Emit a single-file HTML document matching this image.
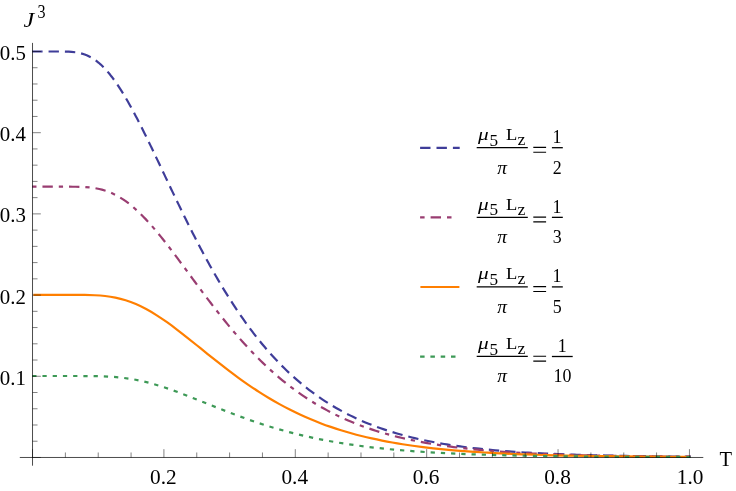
<!DOCTYPE html>
<html><head><meta charset="utf-8"><title>Plot</title>
<style>html,body{margin:0;padding:0;background:#fff}body{width:736px;height:491px;overflow:hidden;font-family:"Liberation Serif",serif}svg{display:block;will-change:transform}.ls{font-family:"Liberation Serif",serif}</style>
</head><body>
<svg width="736" height="491" viewBox="0 0 736 491">
<rect width="736" height="491" fill="#fff"/>
<path d="M32.22,51.49L36.04,51.49L38.76,51.49L42.59,51.49M48.56,51.49L52.38,51.49L55.10,51.49L58.93,51.50M64.90,51.55L68.72,51.68L71.44,51.84L75.24,52.22M81.10,53.35L84.75,54.49L87.28,55.50L90.71,57.19M95.73,60.41L98.73,62.78L100.78,64.57L103.54,67.22M107.58,71.62L110.02,74.56L111.70,76.70L113.99,79.76M117.42,84.65L119.53,87.84L121.00,90.13L123.02,93.38M126.08,98.50L127.99,101.81L129.33,104.18L131.19,107.53M134.03,112.78L135.82,116.16L137.08,118.57L138.83,121.97M141.54,127.29L143.25,130.71L144.46,133.15L146.15,136.58M148.77,141.94L150.43,145.38L151.62,147.84L153.27,151.28M155.84,156.67L157.49,160.12L158.65,162.58L160.29,166.04M162.85,171.43L164.48,174.89L165.64,177.35L167.28,180.81M169.84,186.20L171.48,189.66L172.65,192.11L174.30,195.56M176.88,200.95L178.54,204.39L179.73,206.84L181.39,210.28M184.02,215.65L185.70,219.08L186.91,221.52L188.62,224.94M191.29,230.28L193.02,233.69L194.26,236.11L196.00,239.52M198.75,244.81L200.53,248.20L201.80,250.61L203.60,253.98M206.44,259.23L208.28,262.59L209.59,264.97L211.46,268.31M214.40,273.50L216.30,276.82L217.67,279.17L219.61,282.47M222.67,287.59L224.66,290.86L226.09,293.18L228.11,296.43M231.31,301.46L233.39,304.67L234.88,306.95L237.00,310.13M240.36,315.07L242.54,318.21L244.11,320.43L246.34,323.54M249.87,328.35L252.17,331.41L253.82,333.57L256.17,336.59M259.89,341.26L262.32,344.21L264.07,346.30L266.55,349.21M270.48,353.70L273.05,356.53L274.90,358.54L277.52,361.32M281.68,365.60L284.39,368.29L286.34,370.19L289.11,372.83M293.51,376.87L296.37,379.40L298.43,381.18L301.35,383.65M305.99,387.41L309.00,389.76L311.17,391.41L314.24,393.69M319.11,397.14L322.27,399.29L324.54,400.80L327.76,402.86M332.84,405.99L336.14,407.93L338.51,409.28L341.85,411.13M347.13,413.91L350.55,415.63L353.00,416.82L356.46,418.45M361.90,420.89L365.42,422.39L367.94,423.43L371.49,424.84M377.08,426.95L380.67,428.24L383.25,429.13L386.87,430.35M392.57,432.15L396.23,433.24L398.84,434.00L402.53,435.03M408.30,436.55L412.01,437.47L414.66,438.11L418.38,438.97M424.22,440.24L427.96,441.01L430.63,441.54L434.39,442.26M440.26,443.32L444.03,443.96L446.72,444.40L450.50,444.99M456.40,445.87L460.19,446.40L462.89,446.76L466.68,447.25M472.61,447.97L476.40,448.40L479.11,448.70L482.91,449.10M488.85,449.69L492.66,450.05L495.37,450.29L499.18,450.62M505.13,451.10L508.95,451.39L511.66,451.59L515.48,451.86M521.43,452.25L525.25,452.49L527.97,452.65L531.78,452.87M537.75,453.19L541.56,453.38L544.28,453.51L548.10,453.69M554.07,453.95L557.89,454.11L560.61,454.21L564.43,454.36M570.40,454.57L574.22,454.69L576.94,454.78L580.76,454.90M586.73,455.07L590.55,455.17L593.27,455.24L597.10,455.34M603.06,455.47L606.89,455.56L609.61,455.61L613.43,455.69M619.40,455.80L623.22,455.87L625.95,455.91L629.77,455.98M635.74,456.07L639.56,456.12L642.28,456.16L646.11,456.21M652.08,456.28L655.90,456.32L658.62,456.35L662.45,456.39M668.42,456.45L672.24,456.49L674.96,456.51L678.79,456.54M684.76,456.59L687.78,456.61L690.80,456.63" fill="none" stroke="#3f3d99" stroke-width="2.2" stroke-linejoin="round"/>
<path d="M32.22,186.71L36.48,186.71M42.45,186.71L46.27,186.71L48.99,186.71L52.82,186.71M58.79,186.71L63.05,186.71M69.02,186.72L72.84,186.74L75.56,186.77L79.39,186.85M85.35,187.11L89.60,187.46M95.51,188.25L99.26,189.00L101.91,189.64L105.58,190.72M111.16,192.84L115.01,194.65M120.23,197.55L123.44,199.62L125.68,201.18L128.74,203.46M133.36,207.24L136.54,210.08M140.86,214.20L143.55,216.92L145.43,218.88L148.04,221.68M152.01,226.14L154.79,229.37M158.61,233.95L161.02,236.92L162.73,239.05L165.10,242.05M168.76,246.76L171.35,250.14M174.95,254.90L177.24,257.96L178.87,260.15L181.15,263.22M184.70,268.02L187.23,271.45M190.77,276.25L193.04,279.33L194.65,281.52L196.93,284.60M200.48,289.39L203.03,292.80M206.62,297.58L208.93,300.62L210.58,302.79L212.91,305.82M216.57,310.54L219.20,313.89M222.93,318.55L225.33,321.53L227.05,323.64L229.49,326.59M233.32,331.16L236.09,334.39M240.02,338.89L242.56,341.75L244.39,343.77L246.97,346.59M251.05,350.95L254.00,354.02M258.19,358.27L260.91,360.96L262.86,362.86L265.63,365.50M270.00,369.56L273.17,372.41M277.67,376.33L280.59,378.79L282.69,380.53L285.67,382.93M290.37,386.61L293.77,389.17M298.61,392.68L301.74,394.86L303.99,396.40L307.18,398.51M312.21,401.72L315.84,403.95M321.00,406.96L324.33,408.83L326.72,410.13L330.10,411.92M335.43,414.62L339.27,416.47M344.69,418.96L348.19,420.49L350.70,421.55L354.24,423.01M359.80,425.18L363.79,426.66M369.42,428.64L373.05,429.85L375.64,430.69L379.29,431.83M385.02,433.52L389.12,434.67M394.89,436.20L398.60,437.12L401.25,437.76L404.97,438.63M410.80,439.91L414.97,440.78M420.83,441.92L424.59,442.62L427.27,443.09L431.04,443.74M436.94,444.69L441.15,445.33M447.06,446.18L450.85,446.69L453.55,447.04L457.34,447.51M463.27,448.21L467.50,448.68M473.44,449.29L477.25,449.66L479.96,449.92L483.77,450.26M489.71,450.77L493.96,451.11M499.91,451.55L503.73,451.82L506.45,452.00L510.26,452.25M516.22,452.61L520.47,452.86M526.43,453.18L530.25,453.37L532.97,453.50L536.79,453.68M542.76,453.94L547.01,454.11M552.98,454.34L556.80,454.48L559.52,454.57L563.34,454.70M569.31,454.88L573.57,455.01M579.54,455.17L583.36,455.27L586.08,455.33L589.90,455.42M595.87,455.55L600.13,455.64M606.10,455.76L609.92,455.82L612.64,455.87L616.47,455.94M622.44,456.03L626.70,456.09M632.67,456.17L636.49,456.22L639.21,456.25L643.04,456.30M649.00,456.36L653.26,456.41M659.23,456.46L663.06,456.50L665.78,456.52L669.60,456.55M675.57,456.60L679.83,456.63M685.80,456.67L690.80,456.70" fill="none" stroke="#993d71" stroke-width="2.2" stroke-linejoin="round"/>
<path d="M33.318,294.886C36.737,294.886 40.156,294.886 43.574,294.886C46.993,294.886 50.412,294.886 53.830,294.886C57.249,294.886 60.668,294.886 64.086,294.886C67.505,294.886 70.924,294.886 74.342,294.892C77.761,294.897 81.180,294.909 84.598,294.953C88.017,294.997 91.436,295.074 94.854,295.234C98.273,295.394 101.692,295.637 105.110,296.017C108.529,296.397 111.948,296.916 115.366,297.612C118.785,298.309 122.204,299.185 125.622,300.260C129.041,301.334 132.460,302.607 135.878,304.077C139.297,305.546 142.716,307.211 146.134,309.053C149.553,310.895 152.972,312.914 156.390,315.078C159.809,317.242 163.228,319.552 166.646,321.971C170.065,324.391 173.484,326.921 176.902,329.523C180.321,332.126 183.740,334.801 187.158,337.515C190.577,340.229 193.996,342.981 197.414,345.741C200.833,348.501 204.252,351.269 207.670,354.019C211.089,356.770 214.508,359.502 217.926,362.197C221.345,364.891 224.764,367.547 228.182,370.150C231.601,372.752 235.020,375.301 238.438,377.785C241.857,380.269 245.276,382.688 248.694,385.034C252.113,387.381 255.532,389.655 258.950,391.853C262.369,394.050 265.788,396.171 269.206,398.214C272.625,400.257 276.044,402.221 279.462,404.108C282.881,405.995 286.300,407.803 289.718,409.536C293.137,411.269 296.556,412.925 299.974,414.509C303.393,416.092 306.812,417.602 310.230,419.043C313.649,420.483 317.068,421.854 320.486,423.160C323.905,424.466 327.324,425.706 330.743,426.886C334.161,428.065 337.580,429.184 340.999,430.246C344.417,431.309 347.836,432.315 351.255,433.269C354.673,434.223 358.092,435.125 361.511,435.980C364.929,436.835 368.348,437.643 371.767,438.407C375.185,439.172 378.604,439.893 382.023,440.575C385.441,441.257 388.860,441.900 392.279,442.507C395.697,443.115 399.116,443.687 402.535,444.227C405.953,444.767 409.372,445.276 412.791,445.756C416.209,446.235 419.628,446.686 423.047,447.112C426.465,447.537 429.884,447.937 433.303,448.313C436.721,448.690 440.140,449.044 443.559,449.377C446.977,449.710 450.396,450.023 453.815,450.318C457.233,450.612 460.652,450.888 464.071,451.148C467.489,451.408 470.908,451.652 474.327,451.881C477.745,452.110 481.164,452.325 484.583,452.527C488.001,452.729 491.420,452.919 494.839,453.097C498.257,453.274 501.676,453.441 505.095,453.598C508.513,453.754 511.932,453.901 515.351,454.038C518.769,454.176 522.188,454.305 525.607,454.425C529.025,454.546 532.444,454.659 535.863,454.766C539.281,454.872 542.700,454.971 546.119,455.064C549.537,455.157 552.956,455.244 556.375,455.326C559.793,455.408 563.212,455.484 566.631,455.556C570.049,455.628 573.468,455.694 576.887,455.757C580.305,455.820 583.724,455.879 587.143,455.934C590.561,455.988 593.980,456.040 597.399,456.088C600.817,456.136 604.236,456.181 607.655,456.223C611.073,456.265 614.492,456.304 617.911,456.341C621.329,456.378 624.748,456.412 628.167,456.445C631.585,456.477 635.004,456.507 638.423,456.535C641.841,456.563 645.260,456.589 648.679,456.614C652.097,456.638 655.516,456.661 658.935,456.683C662.353,456.704 665.772,456.724 669.191,456.743C672.609,456.762 676.028,456.779 679.447,456.795C682.865,456.812 686.284,456.827 689.703,456.841" fill="none" stroke="#ff7f00" stroke-width="2.2" stroke-linejoin="round"/>
<path d="M32.22,376.02L36.48,376.02M42.45,376.02L46.71,376.02M52.68,376.02L56.94,376.02M62.91,376.02L67.17,376.02M73.14,376.02L77.40,376.02M83.37,376.03L87.63,376.05M93.60,376.11L97.86,376.18M103.82,376.36L108.08,376.55M114.04,376.93L118.28,377.30M124.21,377.97L128.43,378.55M134.32,379.53L138.50,380.35M144.33,381.64L148.47,382.67M154.22,384.25L158.31,385.46M164.00,387.27L168.04,388.63M173.67,390.61L177.67,392.08M183.25,394.19L187.22,395.73M192.78,397.91L196.73,399.49M202.27,401.72L206.22,403.31M211.76,405.54L215.72,407.13M221.26,409.33L225.23,410.89M230.80,413.04L234.78,414.55M240.38,416.63L244.38,418.09M250.01,420.09L254.03,421.48M259.69,423.37L263.75,424.69M269.44,426.48L273.52,427.71M279.25,429.39L283.35,430.54M289.11,432.10L293.23,433.17M299.03,434.62L303.17,435.60M308.99,436.93L313.15,437.83M319.00,439.05L323.18,439.88M329.05,440.98L333.24,441.73M339.12,442.74L343.33,443.42M349.23,444.33L353.44,444.94M359.36,445.76L363.58,446.31M369.51,447.05L373.74,447.54M379.67,448.20L383.91,448.64M389.85,449.23L394.09,449.63M400.04,450.15L404.28,450.51M410.23,450.97L414.48,451.29M420.44,451.70L424.69,451.98M430.65,452.35L434.90,452.60M440.86,452.93L445.12,453.15M451.08,453.43L455.34,453.63M461.30,453.88L465.56,454.06M471.52,454.28L475.78,454.43M481.75,454.63L486.00,454.76M491.97,454.94L496.23,455.06M502.20,455.21L506.46,455.32M512.42,455.45L516.68,455.54M522.65,455.66L526.91,455.74M532.88,455.85L537.14,455.92M543.11,456.01L547.37,456.07M553.34,456.15L557.60,456.21M563.57,456.28L567.83,456.33M573.80,456.39L578.06,456.43M584.03,456.48L588.29,456.52M594.26,456.57L598.52,456.60M604.49,456.64L608.75,456.67M614.72,456.71L618.98,456.73M624.95,456.76L629.21,456.78M635.18,456.81L639.44,456.83M645.41,456.86L649.67,456.87M655.64,456.89L659.90,456.91M665.87,456.93L670.13,456.94M676.10,456.95L680.36,456.97M686.33,456.98L690.59,456.99" fill="none" stroke="#3d9956" stroke-width="2.2" stroke-linejoin="round"/>
<g stroke="#000" stroke-opacity="0.7" stroke-width="1.0" fill="none">
<line x1="19.8" y1="457.47" x2="703.3" y2="457.47"/>
<line x1="32.53" y1="42.9" x2="32.53" y2="465.7"/>
</g>
<g stroke="#000" stroke-opacity="0.55" stroke-width="0.9" fill="none">
<line x1="32.53" y1="457.47" x2="32.53" y2="449.17"/>
<line x1="65.38" y1="457.47" x2="65.38" y2="452.47"/>
<line x1="98.22" y1="457.47" x2="98.22" y2="452.47"/>
<line x1="131.07" y1="457.47" x2="131.07" y2="452.47"/>
<line x1="163.91" y1="457.47" x2="163.91" y2="449.17"/>
<line x1="196.76" y1="457.47" x2="196.76" y2="452.47"/>
<line x1="229.60" y1="457.47" x2="229.60" y2="452.47"/>
<line x1="262.45" y1="457.47" x2="262.45" y2="452.47"/>
<line x1="295.29" y1="457.47" x2="295.29" y2="449.17"/>
<line x1="328.14" y1="457.47" x2="328.14" y2="452.47"/>
<line x1="360.99" y1="457.47" x2="360.99" y2="452.47"/>
<line x1="393.83" y1="457.47" x2="393.83" y2="452.47"/>
<line x1="426.68" y1="457.47" x2="426.68" y2="449.17"/>
<line x1="459.52" y1="457.47" x2="459.52" y2="452.47"/>
<line x1="492.37" y1="457.47" x2="492.37" y2="452.47"/>
<line x1="525.21" y1="457.47" x2="525.21" y2="452.47"/>
<line x1="558.06" y1="457.47" x2="558.06" y2="449.17"/>
<line x1="590.90" y1="457.47" x2="590.90" y2="452.47"/>
<line x1="623.75" y1="457.47" x2="623.75" y2="452.47"/>
<line x1="656.59" y1="457.47" x2="656.59" y2="452.47"/>
<line x1="689.44" y1="457.47" x2="689.44" y2="449.17"/>
<line x1="32.53" y1="457.47" x2="40.83" y2="457.47"/>
<line x1="32.53" y1="441.23" x2="37.53" y2="441.23"/>
<line x1="32.53" y1="424.99" x2="37.53" y2="424.99"/>
<line x1="32.53" y1="408.75" x2="37.53" y2="408.75"/>
<line x1="32.53" y1="392.51" x2="37.53" y2="392.51"/>
<line x1="32.53" y1="376.27" x2="40.83" y2="376.27"/>
<line x1="32.53" y1="360.03" x2="37.53" y2="360.03"/>
<line x1="32.53" y1="343.80" x2="37.53" y2="343.80"/>
<line x1="32.53" y1="327.56" x2="37.53" y2="327.56"/>
<line x1="32.53" y1="311.32" x2="37.53" y2="311.32"/>
<line x1="32.53" y1="295.08" x2="40.83" y2="295.08"/>
<line x1="32.53" y1="278.84" x2="37.53" y2="278.84"/>
<line x1="32.53" y1="262.60" x2="37.53" y2="262.60"/>
<line x1="32.53" y1="246.36" x2="37.53" y2="246.36"/>
<line x1="32.53" y1="230.12" x2="37.53" y2="230.12"/>
<line x1="32.53" y1="213.88" x2="40.83" y2="213.88"/>
<line x1="32.53" y1="197.64" x2="37.53" y2="197.64"/>
<line x1="32.53" y1="181.40" x2="37.53" y2="181.40"/>
<line x1="32.53" y1="165.16" x2="37.53" y2="165.16"/>
<line x1="32.53" y1="148.93" x2="37.53" y2="148.93"/>
<line x1="32.53" y1="132.69" x2="40.83" y2="132.69"/>
<line x1="32.53" y1="116.45" x2="37.53" y2="116.45"/>
<line x1="32.53" y1="100.21" x2="37.53" y2="100.21"/>
<line x1="32.53" y1="83.97" x2="37.53" y2="83.97"/>
<line x1="32.53" y1="67.73" x2="37.53" y2="67.73"/>
<line x1="32.53" y1="51.49" x2="40.83" y2="51.49"/>
</g>
<g class="ls" font-size="20.5" fill="#000">
<text transform="translate(163.36,484.1) scale(1.04,1)" text-anchor="middle">0.2</text>
<text transform="translate(294.74,484.1) scale(1.04,1)" text-anchor="middle">0.4</text>
<text transform="translate(426.13,484.1) scale(1.04,1)" text-anchor="middle">0.6</text>
<text transform="translate(557.51,484.1) scale(1.04,1)" text-anchor="middle">0.8</text>
<text transform="translate(690.19,484.1) scale(1.04,1)" text-anchor="middle">1.0</text>
<text transform="translate(25.9,384.77) scale(1.02,1)" text-anchor="end">0.1</text>
<text transform="translate(25.9,303.58) scale(1.02,1)" text-anchor="end">0.2</text>
<text transform="translate(25.9,222.38) scale(1.02,1)" text-anchor="end">0.3</text>
<text transform="translate(25.9,141.19) scale(1.02,1)" text-anchor="end">0.4</text>
<text transform="translate(25.9,59.99) scale(1.02,1)" text-anchor="end">0.5</text>
<text x="719.5" y="465.7">T</text>
<text transform="translate(23.4,27.2) scale(1.18,1)" font-style="italic">J</text>
<text transform="translate(37.5,17.7) scale(0.87,1)" font-size="18.5">3</text>
</g>
<line x1="421.20" y1="147.80" x2="458.60" y2="147.80" stroke="#3f3d99" stroke-width="2.2" stroke-dasharray="8.2 8.2" stroke-linecap="square"/>
<g class="ls" fill="#000" transform="translate(0,-0.05)">
<line x1="476.7" y1="147.7" x2="527.8" y2="147.7" stroke="#000" stroke-width="1.3"/>
<text transform="translate(478.0,139.9) scale(1.25,1)" font-size="17" font-style="italic">μ</text>
<text x="489.5" y="145.9" font-size="17.2">5</text>
<text transform="translate(505.9,139.9) scale(1.07,1)" font-size="17.3">L</text>
<text transform="translate(517.5,145.0) scale(1.07,1)" font-size="16.7">z</text>
<text transform="translate(502.0,173.6) scale(1.08,1)" font-size="18" font-style="italic" text-anchor="middle">π</text>
<path d="M533.3,147.45H546.1M533.3,152.3H546.1" stroke="#000" stroke-width="1.15" fill="none"/>
<line x1="551.90" y1="147.75" x2="562.80" y2="147.75" stroke="#000" stroke-width="1.3"/>
<text x="557.10" y="143.0" font-size="17.9" text-anchor="middle">1</text>
<text x="557.30" y="173.6" font-size="17.9" text-anchor="middle">2</text>
</g>
<line x1="421.20" y1="217.45" x2="457.50" y2="217.45" stroke="#993d71" stroke-width="2.2" stroke-dasharray="2.3 8.2 8.2 8.2" stroke-linecap="square"/>
<g class="ls" fill="#000" transform="translate(0,69.60)">
<line x1="476.7" y1="147.7" x2="527.8" y2="147.7" stroke="#000" stroke-width="1.3"/>
<text transform="translate(478.0,139.9) scale(1.25,1)" font-size="17" font-style="italic">μ</text>
<text x="489.5" y="145.9" font-size="17.2">5</text>
<text transform="translate(505.9,139.9) scale(1.07,1)" font-size="17.3">L</text>
<text transform="translate(517.5,145.0) scale(1.07,1)" font-size="16.7">z</text>
<text transform="translate(502.0,173.6) scale(1.08,1)" font-size="18" font-style="italic" text-anchor="middle">π</text>
<path d="M533.3,147.45H546.1M533.3,152.3H546.1" stroke="#000" stroke-width="1.15" fill="none"/>
<line x1="551.90" y1="147.75" x2="562.80" y2="147.75" stroke="#000" stroke-width="1.3"/>
<text x="557.10" y="143.0" font-size="17.9" text-anchor="middle">1</text>
<text x="557.30" y="173.6" font-size="17.9" text-anchor="middle">3</text>
</g>
<line x1="420.40" y1="287.00" x2="459.40" y2="287.00" stroke="#ff7f00" stroke-width="2.2"/>
<g class="ls" fill="#000" transform="translate(0,139.15)">
<line x1="476.7" y1="147.7" x2="527.8" y2="147.7" stroke="#000" stroke-width="1.3"/>
<text transform="translate(478.0,139.9) scale(1.25,1)" font-size="17" font-style="italic">μ</text>
<text x="489.5" y="145.9" font-size="17.2">5</text>
<text transform="translate(505.9,139.9) scale(1.07,1)" font-size="17.3">L</text>
<text transform="translate(517.5,145.0) scale(1.07,1)" font-size="16.7">z</text>
<text transform="translate(502.0,173.6) scale(1.08,1)" font-size="18" font-style="italic" text-anchor="middle">π</text>
<path d="M533.3,147.45H546.1M533.3,152.3H546.1" stroke="#000" stroke-width="1.15" fill="none"/>
<line x1="551.90" y1="147.75" x2="562.80" y2="147.75" stroke="#000" stroke-width="1.3"/>
<text x="557.10" y="143.0" font-size="17.9" text-anchor="middle">1</text>
<text x="557.30" y="173.6" font-size="17.9" text-anchor="middle">5</text>
</g>
<line x1="421.20" y1="356.60" x2="457.50" y2="356.60" stroke="#3d9956" stroke-width="2.2" stroke-dasharray="2.3 8" stroke-linecap="square"/>
<g class="ls" fill="#000" transform="translate(0,208.75)">
<line x1="476.7" y1="147.7" x2="527.8" y2="147.7" stroke="#000" stroke-width="1.3"/>
<text transform="translate(478.0,139.9) scale(1.25,1)" font-size="17" font-style="italic">μ</text>
<text x="489.5" y="145.9" font-size="17.2">5</text>
<text transform="translate(505.9,139.9) scale(1.07,1)" font-size="17.3">L</text>
<text transform="translate(517.5,145.0) scale(1.07,1)" font-size="16.7">z</text>
<text transform="translate(502.0,173.6) scale(1.08,1)" font-size="18" font-style="italic" text-anchor="middle">π</text>
<path d="M533.3,147.45H546.1M533.3,152.3H546.1" stroke="#000" stroke-width="1.15" fill="none"/>
<line x1="551.90" y1="147.75" x2="572.70" y2="147.75" stroke="#000" stroke-width="1.3"/>
<text x="562.30" y="143.0" font-size="17.9" text-anchor="middle">1</text>
<text x="562.50" y="173.6" font-size="17.9" text-anchor="middle">10</text>
</g>
</svg>
</body></html>
